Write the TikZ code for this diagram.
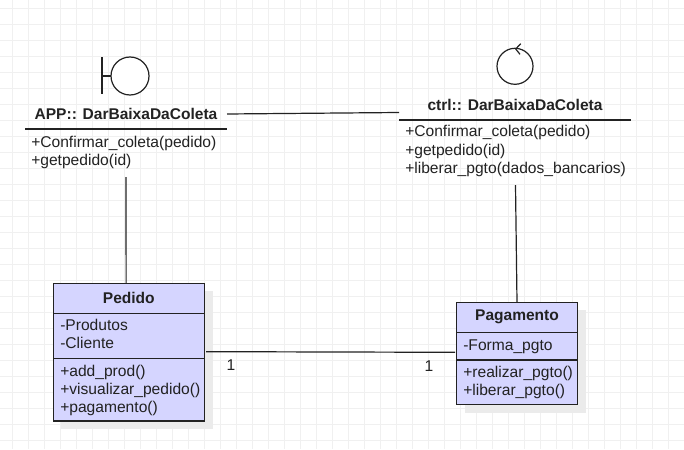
\documentclass[tikz,border=0pt]{standalone}
\usepackage{fontspec}
\setmainfont{Liberation Sans}
\definecolor{ink}{HTML}{222222}
\definecolor{gridc}{HTML}{F0F0F0}
\definecolor{fillc}{HTML}{D5D5FF}
\definecolor{shad}{HTML}{EBEBEB}
\tikzset{
  x=0.75pt,y=-0.75pt,
  txt/.style={font=\fontsize{11.7}{13.5}\selectfont,text=ink,inner sep=0pt,anchor=base west},
  ttl/.style={font=\fontsize{11.65}{13}\selectfont\bfseries,text=ink,inner sep=0pt},
  rowbox/.style={draw=ink,line width=0.9pt,fill=fillc},
  band/.style={inner sep=0pt,outer sep=0pt,minimum width=#1*0.75pt},
  link/.style={draw=ink,line width=0.9pt},
  icon/.style={circle,draw=ink,line width=0.9pt,fill=white,inner sep=0pt,outer sep=0pt,minimum size=#1*0.75pt},
}
\begin{document}
\begin{tikzpicture}
\useasboundingbox (0,0) rectangle (684,449);
\fill[white] (0,0) rectangle (684,449);
\foreach \g in {0,...,42} \draw[gridc,line width=0.6pt] ({12.5+16*\g},0) -- ({12.5+16*\g},449);
\foreach \g in {0,...,27} \draw[gridc,line width=0.6pt] (0,{8+16*\g}) -- (684,{8+16*\g});
% shadows
\fill[shad] (61,291) rectangle (212.5,429);
\fill[shad] (465,310) rectangle (585.5,412.5);
% boundary icon
\node[icon=38] (bcirc) at (130,76) {};
\coordinate (bbar) at (102,76);
\draw[ink,line width=0.9pt] (102,57.5) -- (102,94);
\draw[ink,line width=0.9pt] (bbar) -- (bcirc.west);
% control icon
\node[icon=36] (ccirc) at (515,66.3) {};
\draw[ink,line width=0.9pt] (520.7,43.7) -- (515.7,49) -- (520,54.3);
% APP class
\node[ttl,band=202,minimum height=21pt] (apphead) at (126,114) {APP:: DarBaixaDaColeta};
\draw[ink,line width=0.9pt] (25,129) -- (227,129);
\node[txt] (a1) at (31,147) {+Confirmar\_coleta(pedido)};
\node[txt] (a2) at (31,165) {+getpedido(id)};
\node[band=190,minimum height=1pt] (appfoot) at (126,176.5) {};
% ctrl class
\node[ttl,band=232,minimum height=21pt] (ctrlhead) at (515,112.5) {};
\node[ttl] (ctrltitle) at (515,105) {ctrl:: DarBaixaDaColeta};
\draw[ink,line width=1.3pt] (399,119.7) -- (631,119.7);
\node[txt] (c1) at (405,137) {+Confirmar\_coleta(pedido)};
\node[txt] (c2) at (405,155) {+getpedido(id)};
\node[txt] (c3) at (405,173) {+liberar\_pgto(dados\_bancarios)};
\node[band=220,minimum height=1pt] (ctrlfoot) at (515.5,184.5) {};
% Pedido
\path[rowbox] (53.3,283.3) rectangle (204.3,421);
\draw[ink,line width=0.75pt] (53.3,313.3) -- (204.3,313.3);
\draw[ink,line width=0.9pt] (53.3,358.7) -- (204.3,358.7);
\node[band=151,minimum height=103.3pt,anchor=north] (pedido) at (128.8,283.3) {};
\node[ttl] (pt) at (128.8,298) {Pedido};
\node[txt] (p1) at (60,330) {-Produtos};
\node[txt] (p2) at (60,348) {-Cliente};
\node[txt] (p3) at (60,376) {+add\_prod()};
\node[txt] (p4) at (60,394) {+visualizar\_pedido()};
\node[txt] (p5) at (60,412) {+pagamento()};
% Pagamento
\path[rowbox] (456.7,302.3) rectangle (577.3,404.3);
\draw[ink,line width=0.75pt] (456.7,332.3) -- (577.3,332.3);
\draw[ink,line width=1.2pt] (456.7,360) -- (577.3,360);
\node[band=120.6,minimum height=76.5pt,anchor=north] (pag) at (517,302.3) {};
\node[ttl] (gt) at (517,317) {Pagamento};
\node[txt] (g1) at (463,350) {-Forma\_pgto};
\node[txt] (g2) at (463,377) {+realizar\_pgto()};
\node[txt] (g3) at (463,395) {+liberar\_pgto()};
% connectors
\draw[link] (apphead.east) -- ([yshift=0pt]ctrlhead.west);
\draw[link] (appfoot.south) -- ([xshift=-2pt]pedido.north);
\draw[link] (ctrlfoot.south) -- (pag.north);
\draw[link] ([shift={(1.7,-0.5)}]pedido.east) -- ([shift={(-1.7,-1)}]pag.west);
% multiplicities
\node[txt,anchor=center] (m1) at (231,365) {1};
\node[txt,anchor=center] (m2) at (429,366) {1};
\end{tikzpicture}
\end{document}
